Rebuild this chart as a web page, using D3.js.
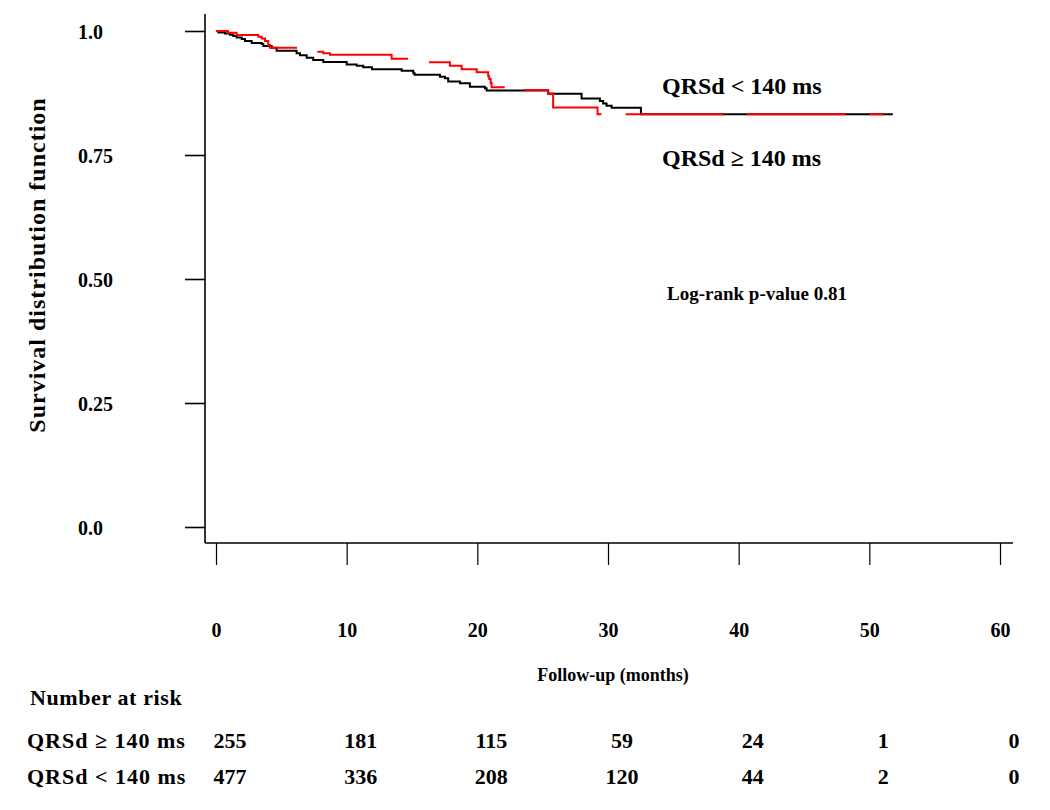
<!DOCTYPE html>
<html><head><meta charset="utf-8">
<script src="https://cdn.jsdelivr.net/npm/d3@7"></script>
<style>
body{margin:0;background:#fff}
text{font-family:"Liberation Serif","Times New Roman",serif;font-weight:bold;fill:#000}
</style>
</head><body><svg id="c" width="1050" height="810"></svg>
<script>
// ---------- data ----------
const yTicks = [0, 0.25, 0.5, 0.75, 1.0];
const yTickLabels = ["0.0", "0.25", "0.50", "0.75", "1.0"];
const xTicks = [0, 10, 20, 30, 40, 50, 60];
const groupLabels = ["QRSd \u2265 140 ms", "QRSd < 140 ms"];
const riskTimes = [0, 10, 20, 30, 40, 50, 60];
const riskHigh = [255, 181, 115, 59, 24, 1, 0];
const riskLow = [477, 336, 208, 120, 44, 2, 0];

// QRSd < 140 ms (black)
const lowTimes = [0, 0.18, 0.69, 1.07, 1.32, 1.58, 1.97, 2.22, 2.73, 3.5, 3.62, 4.26, 4.64, 6.17, 6.43, 6.94, 7.44, 8.21, 10.0, 10.77, 11.27, 11.94, 14.21, 15.1, 15.2, 17.14, 17.52, 17.77, 18.67, 19.43, 20.58, 20.71, 25.42, 27.98, 29.38, 29.63, 29.89, 30.28, 32.52, 51.8];
const lowSurv = [1, 0.997, 0.995, 0.9925, 0.99, 0.987, 0.984, 0.98, 0.976, 0.974, 0.97, 0.966, 0.96, 0.955, 0.951, 0.946, 0.9415, 0.9375, 0.9325, 0.93, 0.927, 0.923, 0.92, 0.9147, 0.912, 0.908, 0.9046, 0.898, 0.8945, 0.8877, 0.8844, 0.88, 0.8735, 0.864, 0.859, 0.854, 0.8494, 0.8453, 0.832, 0.832];

// QRSd >= 140 ms (red)
const highTimes = [0, 0.92, 1.58, 3.24, 3.5, 3.75, 4.0, 4.13, 7.0, 8.21, 8.72, 13.44, 15.5, 17.9, 18.8, 19.95, 20.83, 20.91, 21.02, 21.09, 23.0, 25.42, 25.8, 29.2, 51.1];
const highSurv = [1, 0.9966, 0.992, 0.9885, 0.985, 0.98, 0.972, 0.966, 0.958, 0.955, 0.952, 0.944, 0.937, 0.93, 0.923, 0.9167, 0.909, 0.903, 0.895, 0.8865, 0.881, 0.874, 0.846, 0.832, 0.832];
// intervals (months) where the red curve is not drawn
const highGaps = [[6.2, 7.75], [14.7, 16.3], [22.1, 23.6], [29.5, 31.35], [38.85, 40.6], [48.2, 50.0]];

const annotations = ["QRSd < 140 ms", "QRSd \u2265 140 ms", "Log-rank p-value 0.81"];

// ---------- drawing ----------
const svg = d3.select("#c");
const x = d3.scaleLinear().domain([0, 60]).range([216, 1000]);
const y = d3.scaleLinear().domain([0, 1]).range([527, 31]);

const axisX0 = 205, axisY0 = 543;

// axis lines
svg.append("line").attr("x1", axisX0).attr("x2", axisX0).attr("y1", 14).attr("y2", axisY0)
  .attr("stroke", "#000").attr("stroke-width", 1.6);
svg.append("line").attr("x1", axisX0).attr("x2", 1013).attr("y1", axisY0).attr("y2", axisY0)
  .attr("stroke", "#000").attr("stroke-width", 1.6);

// y axis ticks
const gy = svg.append("g").attr("transform", `translate(${axisX0},0)`)
  .call(d3.axisLeft(y).tickValues(yTicks).tickSize(20).tickSizeOuter(0)
    .tickFormat((d, i) => yTickLabels[i]));
gy.select(".domain").remove();
gy.selectAll(".tick line").attr("stroke", "#000").attr("stroke-width", 1.6);
gy.selectAll(".tick text").attr("x", 78 - axisX0).attr("text-anchor", "start")
  .attr("dy", "0.35em").style("font-size", "20px")
  .style("font-family", '"Liberation Serif","Times New Roman",serif').style("font-weight", "bold");

// x axis ticks
const gx = svg.append("g").attr("transform", `translate(0,${axisY0})`)
  .call(d3.axisBottom(x).tickValues(xTicks).tickSize(22).tickSizeOuter(0).tickFormat(d3.format("d")));
gx.select(".domain").remove();
gx.selectAll(".tick line").attr("stroke", "#000").attr("stroke-width", 1.2);
gx.selectAll(".tick text").attr("y", 87).attr("dy", "0.35em").style("font-size", "20px")
  .style("font-family", '"Liberation Serif","Times New Roman",serif').style("font-weight", "bold");

// axis titles
svg.append("text").attr("transform", "translate(45,265) rotate(-90)")
  .attr("text-anchor", "middle").style("font-size", "24px").style("letter-spacing", "1px")
  .text("Survival distribution function");
svg.append("text").attr("x", 613).attr("y", 675).attr("dy", "0.35em").attr("text-anchor", "middle")
  .style("font-size", "18px").text("Follow-up (months)");

// curves
const line = d3.line().x(d => x(d[0])).y(d => y(d[1])).curve(d3.curveStepAfter);
const lowData = lowTimes.map((t, i) => [t, lowSurv[i]]);
const highData = highTimes.map((t, i) => [t, highSurv[i]]);

svg.append("path").attr("d", line(lowData)).attr("fill", "none")
  .attr("stroke", "#000").attr("stroke-width", 2);

// clip that removes the gaps of the red curve
const visible = [];
let start = 0;
highGaps.forEach(g => { visible.push([start, g[0]]); start = g[1]; });
visible.push([start, 60]);
const clip = svg.append("defs").append("clipPath").attr("id", "redclip");
clip.selectAll("rect").data(visible).join("rect")
  .attr("x", d => x(d[0])).attr("width", d => x(d[1]) - x(d[0]))
  .attr("y", 0).attr("height", 600);
svg.append("path").attr("d", line(highData)).attr("fill", "none")
  .attr("stroke", "#ff0000").attr("stroke-width", 2).attr("clip-path", "url(#redclip)");

// annotations
svg.append("text").attr("x", 662).attr("y", 86).attr("dy", "0.35em").style("font-size", "24px").text(annotations[0]);
svg.append("text").attr("x", 662).attr("y", 158).attr("dy", "0.35em").style("font-size", "24px").text(annotations[1]);
svg.append("text").attr("x", 667).attr("y", 293).attr("dy", "0.35em").style("font-size", "19px").text(annotations[2]);

// number at risk
svg.append("text").attr("x", 30).attr("y", 697).attr("dy", "0.35em").style("font-size", "22px")
  .style("letter-spacing", "0.6px").text("Number at risk");
const rows = [riskHigh, riskLow];
const rowY = [740, 776];
rows.forEach((vals, r) => {
  svg.append("text").attr("x", 27).attr("y", rowY[r]).attr("dy", "0.35em").style("font-size", "22px")
    .style("letter-spacing", "1px").text(groupLabels[r]);
  svg.selectAll(null).data(vals).join("text")
    .attr("x", (d, i) => x(riskTimes[i]) + 14).attr("y", rowY[r]).attr("dy", "0.35em")
    .attr("text-anchor", "middle").style("font-size", "22px").text(d => d);
});
</script>
</body></html>
